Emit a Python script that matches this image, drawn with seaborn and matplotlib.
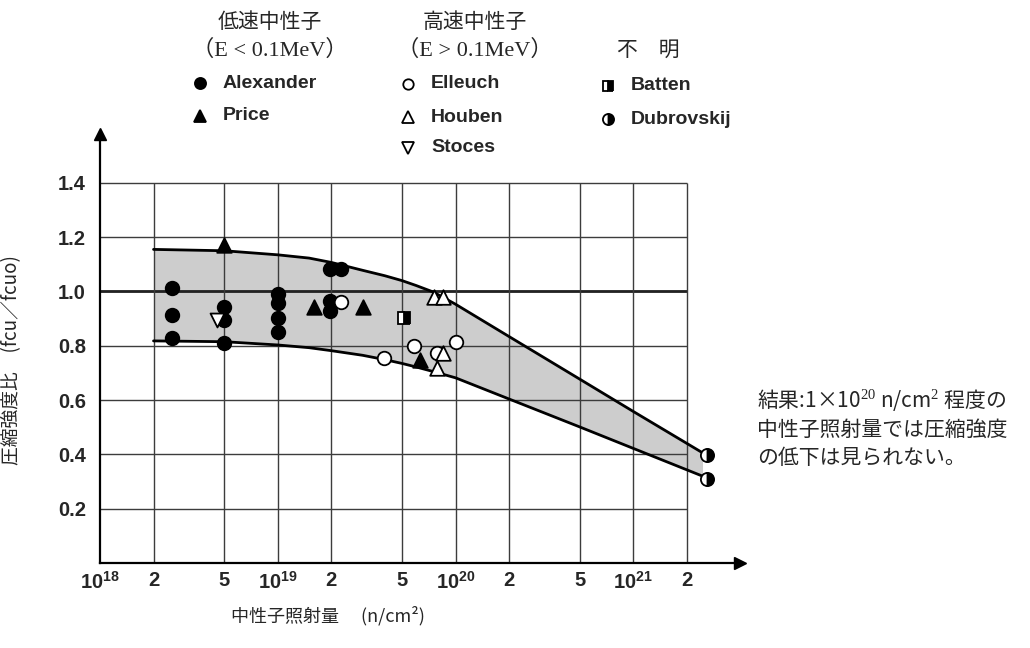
import matplotlib
matplotlib.use("Agg")
import matplotlib.pyplot as plt
from matplotlib.ticker import NullLocator
import pandas as pd
import seaborn as sns

# ── data ─────────────────────────────────────────────────────────────────────
# low-speed neutrons (E < 0.1MeV)
alex_x = [2.55e18, 2.55e18, 2.55e18, 5e18, 5e18, 5e18,
          1e19, 1e19, 1e19, 1e19, 1.96e19, 2.27e19, 1.96e19, 1.96e19]
alex_y = [1.011, 0.913, 0.830, 0.944, 0.895, 0.809,
          0.990, 0.956, 0.901, 0.849, 1.082, 1.082, 0.966, 0.929]
price_x = [5e18, 1.59e19, 3.02e19, 6.3e19]
price_y = [1.171, 0.944, 0.944, 0.747]
# high-speed neutrons (E > 0.1MeV)
elleuch_x = [2.28e19, 3.95e19, 5.87e19, 7.88e19, 1.0e20]
elleuch_y = [0.960, 0.754, 0.799, 0.772, 0.813]
houben_x = [7.55e19, 8.5e19, 8.5e19, 7.88e19]
houben_y = [0.981, 0.981, 0.772, 0.720]
stoces_x = [4.58e18]
stoces_y = [0.895]
# unknown
batten_x = [5.11e19]
batten_y = [0.903]
dubrov_x = [2.6e21, 2.6e21]
dubrov_y = [0.398, 0.309]

# scatter band (upper / lower envelope)
band_x = [2e18, 5e18, 1e19, 1.5e19, 2e19, 3e19, 4e19, 5e19, 6e19, 7.5e19,
          1e20, 2e20, 5e20, 1e21, 2.45e21]
band_hi = [1.155, 1.150, 1.135, 1.123, 1.107, 1.078, 1.058, 1.040, 1.022, 0.998,
           0.953, 0.834, 0.677, 0.558, 0.406]
band_lo = [0.818, 0.815, 0.803, 0.793, 0.782, 0.765, 0.749, 0.735, 0.722, 0.705,
           0.682, 0.604, 0.501, 0.422, 0.320]

y_grid = [0.2, 0.4, 0.6, 0.8, 1.0, 1.2, 1.4]
x_grid = [2e18, 5e18, 1e19, 2e19, 5e19, 1e20, 2e20, 5e20, 1e21, 2e21]
x_ticks = [1e18, 2e18, 5e18, 1e19, 2e19, 5e19, 1e20, 2e20, 5e20, 1e21, 2e21]
x_ticklabels = [r"$10^{18}$", "2", "5", r"$10^{19}$", "2", "5",
                r"$10^{20}$", "2", "5", r"$10^{21}$", "2"]
y_ticklabels = ["0.2", "0.4", "0.6", "0.8", "1.0", "1.2", "1.4"]

# ── style ────────────────────────────────────────────────────────────────────
sns.set_theme(style="white")
plt.rcParams["font.family"] = ["Liberation Sans", "Noto Sans CJK JP", "DejaVu Sans"]
plt.rcParams["mathtext.fontset"] = "custom"
plt.rcParams["mathtext.rm"] = "Liberation Serif"
plt.rcParams["mathtext.bf"] = "Liberation Sans:bold"
plt.rcParams["mathtext.default"] = "bf"
JP = ["Noto Sans CJK JP", "DejaVu Sans"]

W, H = 1030, 648
fig = plt.figure(figsize=(W / 100, H / 100), dpi=100)
ax = fig.add_axes([100 / W, 85 / H, 640 / W, 429 / H])
ax.set_xscale("log")
ax.set_xlim(1e18, 10 ** 21.6)
ax.set_ylim(0, 1.58)

# grid only inside the 10^18..2x10^21 / 0..1.4 box
ax.hlines(y_grid, 1e18, 2e21, color="#3c3c3c", lw=1.0, zorder=1)
ax.hlines([1.0], 1e18, 2e21, color="#222222", lw=2.0, zorder=1)
ax.vlines(x_grid, 0, 1.4, color="#3c3c3c", lw=1.0, zorder=1)

# band
ax.fill_between(band_x, band_lo, band_hi, color="#cdcdcd", lw=0, zorder=0.5)
ax.plot(band_x, band_hi, color="black", lw=2.0, zorder=2)
ax.plot(band_x, band_lo, color="black", lw=2.0, zorder=2)

# points
pts = pd.concat([
    pd.DataFrame({"x": alex_x, "y": alex_y, "src": "Alexander"}),
    pd.DataFrame({"x": price_x, "y": price_y, "src": "Price"}),
    pd.DataFrame({"x": elleuch_x, "y": elleuch_y, "src": "Elleuch"}),
    pd.DataFrame({"x": houben_x, "y": houben_y, "src": "Houben"}),
    pd.DataFrame({"x": stoces_x, "y": stoces_y, "src": "Stoces"}),
])
style = {
    "Alexander": dict(marker="o", color="black", s=95),
    "Price": dict(marker="^", color="black", s=110),
    "Elleuch": dict(marker="o", color="white", s=95),
    "Houben": dict(marker="^", color="white", s=110),
    "Stoces": dict(marker="v", color="white", s=100),
}
for name, grp in pts.groupby("src"):
    st = style[name]
    sns.scatterplot(data=grp, x="x", y="y", marker=st["marker"], color=st["color"],
                    s=st["s"], edgecolor="black", linewidth=1.3, zorder=4,
                    legend=False, ax=ax)
ax.plot(batten_x, batten_y, ls="none", marker="s", ms=9, fillstyle="right",
        mfc="black", mfcalt="white", mec="black", mew=1.3, zorder=4)
ax.plot(dubrov_x, dubrov_y, ls="none", marker="o", ms=9.5, fillstyle="right",
        mfc="black", mfcalt="white", mec="black", mew=1.3, zorder=4, clip_on=False)

# axes, ticks, arrows
sns.despine(ax=ax)
for side in ["left", "bottom"]:
    ax.spines[side].set_color("black")
    ax.spines[side].set_linewidth(1.6)
ax.plot([0], [1], marker="^", ms=8, color="black", transform=ax.transAxes, clip_on=False)
ax.plot([1], [0], marker=">", ms=8, color="black", transform=ax.transAxes, clip_on=False)

ax.set_xticks(x_ticks)
ax.set_xticklabels(x_ticklabels)
ax.xaxis.set_minor_locator(NullLocator())
ax.set_yticks(y_grid)
ax.set_yticklabels(y_ticklabels)
ax.tick_params(axis="both", length=0, labelsize=14.5)
ax.tick_params(axis="x", pad=6)
ax.tick_params(axis="y", pad=10)
for lbl in ax.get_xticklabels() + ax.get_yticklabels():
    lbl.set_fontweight("bold")

ax.set_xlabel("中性子照射量　 (n/cm²)", family=JP, fontsize=13)
ax.xaxis.set_label_coords((328 - 100) / 640, (563 - 606) / 429)
ax.set_ylabel("圧縮強度比　(fcu／fcuo)", family=JP, fontsize=13.5)
ax.yaxis.set_label_coords((22 - 100) / 640, (563 - 360) / 429)


# ── legend drawn as text + markers in figure space ───────────────────────────
def fx(px):
    return px / W


def fy(py):
    return 1 - py / H


SERIF = ["Liberation Serif", "Noto Sans CJK JP"]
fig.text(fx(270), fy(22), "低速中性子", family=JP, fontsize=15, ha="center", va="center")
fig.text(fx(270), fy(50), "（E < 0.1MeV）", family=SERIF, fontsize=16, ha="center", va="center")
fig.text(fx(475), fy(22), "高速中性子", family=JP, fontsize=15, ha="center", va="center")
fig.text(fx(475), fy(50), "（E > 0.1MeV）", family=SERIF, fontsize=16, ha="center", va="center")
fig.text(fx(648), fy(50), "不　明", family=JP, fontsize=15, ha="center", va="center")

legend_items = [
    ("Alexander", 200, 83, dict(marker="o", mfc="black", ms=8)),
    ("Price", 200, 116, dict(marker="^", mfc="black", ms=8)),
    ("Elleuch", 408, 84, dict(marker="o", mfc="white", ms=7.5)),
    ("Houben", 408, 117, dict(marker="^", mfc="white", ms=8)),
    ("Stoces", 408, 148, dict(marker="v", mfc="white", ms=8)),
    ("Batten", 608, 86, dict(marker="s", mfc="black", mfcalt="white", fillstyle="right", ms=7.5)),
    ("Dubrovskij", 608, 119, dict(marker="o", mfc="black", mfcalt="white", fillstyle="right", ms=8)),
]
for name, px, py, mk in legend_items:
    fig.add_artist(plt.Line2D([fx(px)], [fy(py)], ls="none", mec="black", mew=1.3,
                              transform=fig.transFigure, **mk))
    fig.text(fx(px + 23), fy(py), name, fontsize=14, fontweight="bold", ha="left", va="center")

# ── note on the right ────────────────────────────────────────────────────────
note = (r"結果:1×10$^{\mathrm{20}}$ n/cm$^{\mathrm{2}}$ 程度の" + "\n"
        + "中性子照射量では圧縮強度\nの低下は見られない。")
fig.text(fx(757), fy(428), note, family=JP, fontsize=15, ha="left", va="center",
         linespacing=1.35)

fig.savefig("out.png", dpi=100)
